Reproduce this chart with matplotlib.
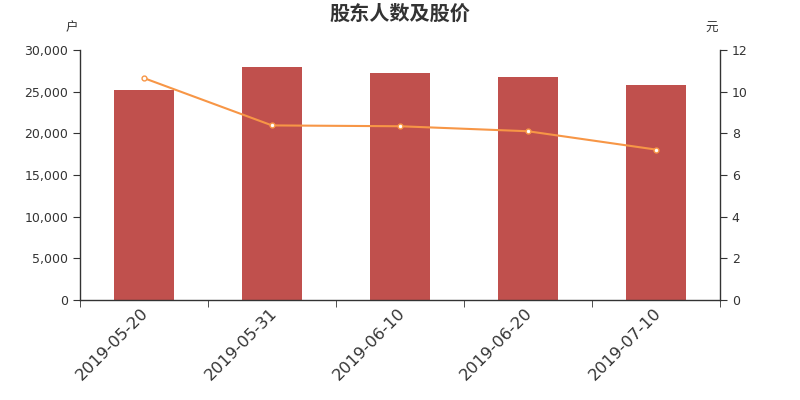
import matplotlib
matplotlib.use("Agg")
import matplotlib.pyplot as plt
from matplotlib.ticker import FuncFormatter, FixedLocator
import matplotlib.transforms as mtransforms
import numpy as np

plt.rcParams['font.family'] = ['DejaVu Sans', 'Noto Sans CJK SC']

categories = ["2019-05-20", "2019-05-31", "2019-06-10", "2019-06-20", "2019-07-10"]
holders = [25250, 28000, 27250, 26800, 25850]
price = [10.65, 8.38, 8.34, 8.10, 7.22]

fig = plt.figure(figsize=(8, 4), dpi=100)
ax = fig.add_axes([0.10, 0.25, 0.80, 0.625])
ax2 = ax.twinx()

x = np.arange(len(categories))
ax.bar(x, holders, width=0.47, color="#c0504d", zorder=2)
ax2.plot(x, price, color="#f79646", lw=1.5, marker="o", ms=3.5,
         markerfacecolor="white", markeredgecolor="#f79646", markeredgewidth=1, zorder=3)

ax.set_xlim(-0.5, len(categories) - 0.5)
ax.set_ylim(0, 30000)
ax2.set_ylim(0, 12)
ax.set_yticks(np.arange(0, 30001, 5000))
ax2.set_yticks(np.arange(0, 13, 2))
ax.yaxis.set_major_formatter(FuncFormatter(lambda v, p: f"{int(v):,}"))

ax.set_xticks(x)
ax.set_xticklabels(categories, rotation=45, ha="right", rotation_mode="anchor",
                   fontsize=11.8, color="#333333")
ax.tick_params(axis="x", length=0, pad=4)
offset = mtransforms.ScaledTranslation(-3 / 100, 0, fig.dpi_scale_trans)
for lbl in ax.get_xticklabels():
    lbl.set_transform(lbl.get_transform() + offset)
ax.xaxis.set_minor_locator(FixedLocator(np.arange(-0.5, len(categories), 1.0)))
ax.tick_params(axis="x", which="minor", length=5, color="#333333")

for a in (ax, ax2):
    for s in a.spines.values():
        s.set_visible(False)
    a.tick_params(axis="y", labelsize=9, labelcolor="#333333", color="#333333", length=5)
ax.spines["left"].set_visible(True)
ax.spines["bottom"].set_visible(True)
ax2.spines["right"].set_visible(True)
for s in (ax.spines["left"], ax.spines["bottom"], ax2.spines["right"]):
    s.set_color("#333333")
    s.set_linewidth(1)

fig.text(0.5, 0.967, "股东人数及股价", ha="center", va="center", fontsize=14.5,
         fontweight="bold", color="#333333", family=['Noto Sans CJK SC', 'DejaVu Sans'])
fig.text(0.0975, 0.93, "户", ha="right", va="center", fontsize=9, color="#333333",
         family=['Noto Sans CJK SC', 'DejaVu Sans'])
fig.text(0.8975, 0.93, "元", ha="right", va="center", fontsize=9, color="#333333",
         family=['Noto Sans CJK SC', 'DejaVu Sans'])

fig.savefig("out.png", dpi=100)
